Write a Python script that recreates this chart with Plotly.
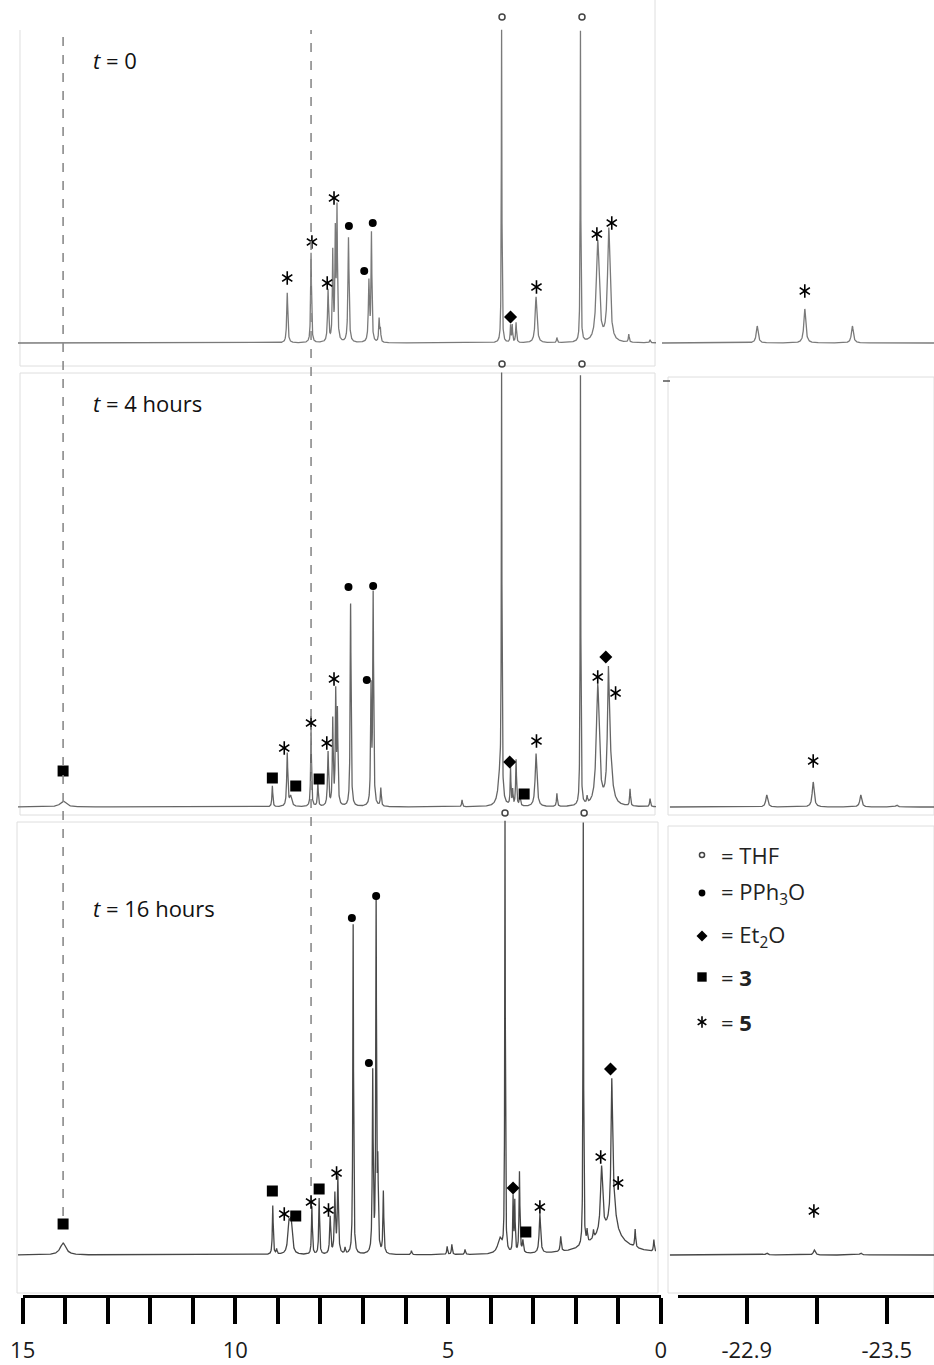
import numpy as np
import plotly.graph_objects as go

W, H = 934, 1365

# ---------------- data ----------------
# Panel 1: t = 0   (ppm, height, half-width); THF peaks run off the top of the panel
P1_PPM = [8.78, 8.22, 7.82, 7.71, 7.65, 7.61, 7.34, 6.86, 6.80, 6.62, 6.59, 3.74, 3.53, 3.49, 3.40, 2.93, 2.44, 1.886, 1.48, 1.22, 0.75, 0.25]
P1_H   = [50, 90, 52, 88, 105, 130, 105, 60, 108, 23, 12, 313, 17, 17, 20, 46, 5, 311, 101, 113, 8, 3]
P1_W   = [.015, .012, .015, .012, .012, .012, .015, .015, .012, .012, .012, .008, .01, .01, .012, .025, .012, .008, .04, .035, .012, .012]

# Panel 2: t = 4 hours
P2_PPM = [14.05, 9.13, 8.78, 8.70, 8.22, 8.06, 7.82, 7.71, 7.64, 7.60, 7.29, 6.81, 6.76, 6.58, 4.67, 3.78, 3.74, 3.53, 3.48, 3.40, 3.31, 2.93, 2.44, 1.886, 1.73, 1.48, 1.23, 1.19, 0.72, 0.25]
P2_H   = [6, 21, 53, 10, 74, 24, 54, 85, 110, 90, 203, 115, 210, 18, 7, 30, 416, 37, 15, 46, 10, 53, 13, 430, 7, 120, 110, 40, 17, 8]
P2_W   = [.08, .012, .015, .03, .012, .012, .015, .012, .012, .012, .012, .012, .012, .012, .012, .05, .008, .01, .01, .012, .015, .025, .012, .008, .012, .04, .025, .06, .012, .012]

# Panel 3: t = 16 hours
P3_PPM = [14.05, 9.12, 9.03, 8.74, 8.69, 8.20, 8.03, 7.77, 7.66, 7.59, 7.42, 7.23, 6.77, 6.69, 6.65, 6.52, 5.86, 5.02, 4.91, 4.60, 3.78, 3.66, 3.47, 3.43, 3.32, 3.24, 2.84, 2.35, 1.82, 1.73, 1.58, 1.39, 1.15, 1.12, 1.25, 0.60, 0.16]
P3_H   = [12, 49, 5, 28, 30, 48, 56, 37, 59, 76, 6, 330, 180, 350, 80, 62, 4, 8, 10, 5, 15, 430, 55, 50, 81, 12, 39, 15, 423, 12, 8, 66, 125, 35, 22, 18, 12]
P3_W   = [.08, .012, .012, .03, .03, .012, .012, .015, .015, .015, .012, .010, .012, .010, .012, .012, .012, .012, .012, .012, .06, .008, .01, .01, .012, .015, .02, .015, .008, .012, .012, .03, .02, .07, .45, .012, .012]

# Hydride region (right column)
R1_PPM = [-22.945, -23.149, -23.353]; R1_H = [17, 34, 17]
R2_PPM = [-22.986, -23.185, -23.389, -23.543]; R2_H = [12, 25, 12, 2]
R3_PPM = [-22.986, -23.190, -23.389]; R3_H = [2, 5, 2]
R_W = 0.005

# Peak labels: (ppm, height, symbol)
P1_LAB_PPM = [8.78, 8.20, 7.84, 7.68, 7.33, 6.97, 6.77, 3.53, 2.92, 1.50, 1.15, 3.73, 1.85]
P1_LAB_H   = [65, 101, 60, 145, 117, 72, 120, 26, 56, 109, 120, 326, 326]
P1_LAB_S   = ['star', 'star', 'star', 'star', 'pph', 'pph', 'pph', 'et2o', 'star', 'star', 'star', 'thf', 'thf']

P2_LAB_PPM = [14.05, 9.13, 8.85, 8.58, 8.22, 8.03, 7.85, 7.68, 7.34, 6.91, 6.76, 3.55, 3.21, 2.92, 1.48, 1.29, 1.06, 3.73, 1.85]
P2_LAB_H   = [36, 29, 59, 21, 84, 28, 64, 128, 220, 127, 221, 45, 13, 66, 130, 150, 114, 443, 443]
P2_LAB_S   = ['sq', 'sq', 'star', 'sq', 'star', 'sq', 'star', 'star', 'pph', 'pph', 'pph', 'et2o', 'sq', 'star', 'star', 'et2o', 'star', 'thf', 'thf']

P3_LAB_PPM = [14.05, 9.13, 8.85, 8.58, 8.22, 8.03, 7.81, 7.62, 7.26, 6.86, 6.69, 3.47, 3.17, 2.84, 1.41, 1.18, 1.00, 3.66, 1.80]
P3_LAB_H   = [31, 64, 41, 39, 53, 66, 45, 82, 337, 192, 359, 67, 23, 48, 98, 186, 72, 442, 442]
P3_LAB_S   = ['sq', 'sq', 'star', 'sq', 'star', 'sq', 'star', 'star', 'pph', 'pph', 'pph', 'et2o', 'sq', 'star', 'star', 'et2o', 'star', 'thf', 'thf']

R_LAB_PPM = [-23.149, -23.185, -23.188]
R_LAB_H   = [52, 46, 44]

PANEL_TITLES = ["<i>t</i> = 0", "<i>t</i> = 4 hours", "<i>t</i> = 16 hours"]
LEGEND_SYMS = ['thf', 'pph', 'et2o', 'sq', 'star']
LEGEND_TEXT = ["= THF", "= PPh<sub>3</sub>O", "= Et<sub>2</sub>O", "= <b>3</b>", "= <b>5</b>"]

LEFT_TICKS = list(range(0, 16))
LEFT_TICKTEXT = [str(v) if v in (0, 5, 10, 15) else '' for v in LEFT_TICKS]
RIGHT_TICKS = [-22.9, -23.2, -23.5]
RIGHT_TICKTEXT = ['-22.9', '', '-23.5']

DASHED_PPM = [14.05, 8.22]

# ---------------- layout geometry (pixels) ----------------
def py(p):  # pixel y -> paper
    return 1 - p / H

def px(p):
    return p / W

# panels: top of the axis area (room for the labels), frame bottom, baseline
PANELS = [(8, 366, 343), (356, 815, 807), (805, 1290, 1255)]
LEFT_RANGE = [15.11, 0.11]
RIGHT_RANGE = [-22.537, -23.7028]
RIGHT_START = [-22.537, -22.571, -22.571]
RULER_L_RANGE = [15, 0]
RULER_R_RANGE = [-22.6055, -23.7028]


def spectrum(grid, ppm, h, w):
    g = grid[:, None]
    p = np.array(ppm)[None, :]
    hh = np.array(h, dtype=float)[None, :]
    ww = np.array(w, dtype=float)[None, :]
    return (hh * ww ** 2 / (ww ** 2 + (g - p) ** 2)).sum(axis=1)


fig = go.Figure()

line_colors = ['#7a7a7a', '#666666', '#474747']
peak_sets = [(P1_PPM, P1_H, P1_W), (P2_PPM, P2_H, P2_W), (P3_PPM, P3_H, P3_W)]
right_sets = [(R1_PPM, R1_H), (R2_PPM, R2_H), (R3_PPM, R3_H)]
lab_sets = [(P1_LAB_PPM, P1_LAB_H, P1_LAB_S), (P2_LAB_PPM, P2_LAB_H, P2_LAB_S), (P3_LAB_PPM, P3_LAB_H, P3_LAB_S)]

SYM_STYLE = {
    'thf': dict(symbol='circle-open', size=6, color='#444', line=dict(width=1.5, color='#444')),
    'pph': dict(symbol='circle', size=8, color='black'),
    'et2o': dict(symbol='diamond', size=10, color='black'),
    'sq': dict(symbol='square', size=11, color='black'),
}


def add_marks(xs, ys, syms, xa, ya, scale=1.0):
    for s in ['thf', 'pph', 'et2o', 'sq', 'star']:
        sx = [x for x, k in zip(xs, syms) if k == s]
        sy = [y for y, k in zip(ys, syms) if k == s]
        if not sx:
            continue
        if s == 'star':
            for sym in ['y-up-open', 'y-down-open']:
                fig.add_trace(go.Scatter(x=sx, y=sy, mode='markers', xaxis=xa, yaxis=ya,
                                         marker=dict(symbol=sym, size=8.5 * scale, color='black',
                                                     line=dict(width=1.6, color='black')),
                                         cliponaxis=False, showlegend=False, hoverinfo='skip'))
        else:
            st = dict(SYM_STYLE[s])
            st['size'] = st['size'] * scale
            fig.add_trace(go.Scatter(x=sx, y=sy, mode='markers', xaxis=xa, yaxis=ya,
                                     marker=st, cliponaxis=False, showlegend=False, hoverinfo='skip'))


for i in range(3):
    ya = 'y%d' % (i + 2)
    ppm, h, w = peak_sets[i]
    grid = np.unique(np.concatenate([np.linspace(LEFT_RANGE[1], LEFT_RANGE[0], 7000), np.array(ppm)]))[::-1]
    fig.add_trace(go.Scatter(x=grid, y=spectrum(grid, ppm, h, w), mode='lines', xaxis='x4', yaxis=ya,
                             line=dict(color=line_colors[i], width=1.3), showlegend=False, hoverinfo='skip'))
    rp, rh = right_sets[i]
    rgrid = np.unique(np.concatenate([np.linspace(RIGHT_RANGE[1], RIGHT_START[i], 1500), np.array(rp)]))[::-1]
    fig.add_trace(go.Scatter(x=rgrid, y=spectrum(rgrid, rp, rh, [R_W] * len(rp)), mode='lines', xaxis='x3', yaxis=ya,
                             line=dict(color=line_colors[i], width=1.3), showlegend=False, hoverinfo='skip'))
    lp, lh, ls = lab_sets[i]
    add_marks(lp, lh, ls, 'x4', ya)
    add_marks([R_LAB_PPM[i]], [R_LAB_H[i]], ['star'], 'x3', ya)

# invisible anchor traces so that the ruler axes get drawn
fig.add_trace(go.Scatter(x=RULER_L_RANGE, y=[0.5, 0.5], xaxis='x', yaxis='y', mode='lines',
                         line=dict(width=0, color='rgba(0,0,0,0)'), showlegend=False, hoverinfo='skip'))
fig.add_trace(go.Scatter(x=RULER_R_RANGE, y=[0.5, 0.5], xaxis='x2', yaxis='y', mode='lines',
                         line=dict(width=0, color='rgba(0,0,0,0)'), showlegend=False, hoverinfo='skip'))

# legend symbols on a pixel overlay axis
LEG_Y = [855, 893, 936, 977, 1022]
add_marks([702] * 5, LEG_Y, LEGEND_SYMS, 'x5', 'y5', scale=0.85)

ruler_common = dict(showline=True, linewidth=3, linecolor='black', ticks='outside', ticklen=26,
                    tickwidth=3.5, tickcolor='black',
                    tickfont=dict(size=22, family='Open Sans', color='#1a1a1a'),
                    showgrid=False, zeroline=False, ticklabelstandoff=8, fixedrange=True,
                    automargin=False)

hidden = dict(visible=False, automargin=False)

layout = dict(
    width=W, height=H, margin=dict(l=0, r=0, t=0, b=0, pad=0, autoexpand=False),
    paper_bgcolor='white', plot_bgcolor='rgba(0,0,0,0)',
    showlegend=False,
    font=dict(family='Open Sans, sans-serif', color='#1a1a1a'),
    xaxis=dict(domain=[px(22.7), px(660.7)], range=RULER_L_RANGE, anchor='y',
               tickmode='array', tickvals=LEFT_TICKS, ticktext=LEFT_TICKTEXT, **ruler_common),
    xaxis2=dict(domain=[px(678), 1], range=RULER_R_RANGE, anchor='y',
                tickmode='array', tickvals=RIGHT_TICKS, ticktext=RIGHT_TICKTEXT, **ruler_common),
    yaxis=dict(domain=[py(1295), py(1285)], range=[0, 1], anchor='x', **hidden),
    xaxis3=dict(domain=[px(662), 1], range=RIGHT_RANGE, anchor='y2', **hidden),
    xaxis4=dict(domain=[px(18), px(656)], range=LEFT_RANGE, anchor='y2', **hidden),
    xaxis5=dict(domain=[0, 1], range=[0, W], anchor='y5', **hidden),
    yaxis5=dict(domain=[0, 1], range=[H, 0], anchor='x5', **hidden),
)
for i, (top, bot, base) in enumerate(PANELS):
    layout['yaxis%d' % (i + 2)] = dict(domain=[py(bot), py(top)], range=[-(bot - base), base - top],
                                       anchor='x4', **hidden)

fig.update_layout(**layout)

# frames
FRAME = '#dedede'
frames = [(20, 373, 655, 815), (668, 377, 934, 815), (17, 822, 658, 1293), (668, 826, 934, 1293)]
for x0, y0, x1, y1 in frames:
    fig.add_shape(type='rect', xref='paper', yref='paper', x0=px(x0), x1=px(x1), y0=py(y1), y1=py(y0),
                  line=dict(color=FRAME, width=1), layer='below')
# panel 1 frame (no top edge)
fig.add_shape(type='path', xref='paper', yref='paper',
              path='M %f,%f L %f,%f L %f,%f L %f,%f' % (px(20), py(30), px(20), py(366), px(655), py(366), px(655), py(0)),
              line=dict(color=FRAME, width=1), layer='below')
fig.add_shape(type='line', xref='paper', yref='paper', x0=px(663), x1=px(670), y0=py(381), y1=py(381),
              line=dict(color='#555', width=1.5))

# dashed guide lines
for d, ybot in zip(DASHED_PPM, [1216, 1186]):
    fig.add_shape(type='line', xref='x4', yref='paper', x0=d, x1=d, y0=py(ybot), y1=py(30),
                  line=dict(color='#8a8a8a', width=1.6, dash='dash'))

# panel titles
for txt, ty in zip(PANEL_TITLES, [60, 403, 908]):
    fig.add_annotation(xref='paper', yref='paper', x=px(91), y=py(ty), xanchor='left', yanchor='middle',
                       text=txt, showarrow=False, font=dict(size=22, family='Open Sans', color='#111'))

# legend text
for yy, t in zip(LEG_Y, LEGEND_TEXT):
    fig.add_annotation(xref='paper', yref='paper', x=px(719), y=py(yy), xanchor='left', yanchor='middle',
                       text=t, showarrow=False, font=dict(size=22, family='Open Sans', color='#222'))

fig.write_html("out.html")
